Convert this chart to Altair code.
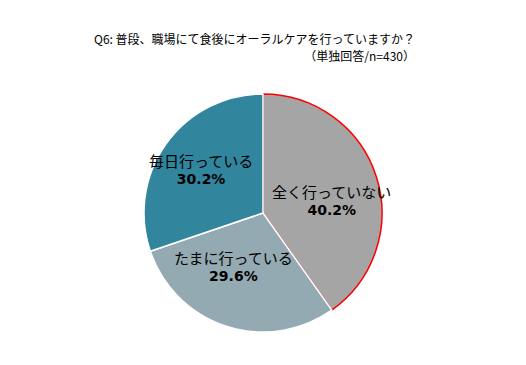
import altair as alt
import pandas as pd

categories = ["全く行っていない", "たまに行っている", "毎日行っている"]
values = [40.2, 29.6, 30.2]
pct_labels = ["40.2%", "29.6%", "30.2%"]
colors = ["#A5A5A5", "#93AAB2", "#31859C"]
title_lines = ["Q6: 普段、職場にて食後にオーラルケアを行っていますか？", "（単独回答/n=430）"]

df = pd.DataFrame({"cat": categories, "value": values, "pct": pct_labels,
                   "order": list(range(len(categories)))})

CX, CY, R = 255, 205, 119
base = alt.Chart(df)

pie = base.mark_arc(strokeWidth=1.5).encode(
    theta=alt.Theta("value:Q", stack=True),
    order=alt.Order("order:Q"),
    color=alt.Color("cat:N", scale=alt.Scale(domain=categories, range=colors), legend=None),
    stroke=alt.condition(alt.datum.cat == categories[0], alt.value("#FF0000"), alt.value("white")),
    x=alt.value(CX), y=alt.value(CY), radius=alt.value(R),
)

offsets = {categories[0]: (2, 10), categories[1]: (-8, -12), categories[2]: (-5, -1)}
layers = [pie]
for cat, (dx, dy) in offsets.items():
    enc = dict(theta=alt.Theta("value:Q", stack=True), order=alt.Order("order:Q"),
               x=alt.value(CX), y=alt.value(CY), radius=alt.value(70))
    name = base.mark_text(font="Noto Sans CJK JP", fontSize=15, color="#000000",
                          dx=dx, dy=dy - 9).encode(
        text=alt.condition(alt.datum.cat == cat, "cat:N", alt.value("")), **enc)
    pct = base.mark_text(font="DejaVu Sans", fontWeight="bold", fontSize=14, color="#000000",
                         dx=dx, dy=dy + 9).encode(
        text=alt.condition(alt.datum.cat == cat, "pct:N", alt.value("")), **enc)
    layers += [name, pct]

tdf = pd.DataFrame({"t": title_lines, "i": [0, 1]})
title = alt.Chart(tdf).mark_text(font="Noto Sans CJK JP", fontSize=12, align="right",
                                 baseline="middle", color="#000000").encode(
    text="t:N",
    x=alt.value(407),
    y=alt.Y("i:Q", scale=alt.Scale(domain=[0, 1], range=[32, 49]), axis=None),
)
layers.append(title)

chart = alt.layer(*layers).properties(
    width=510, height=349, padding=0, autosize="none"
).configure_view(stroke=None)

chart.save("out.html", embed_options={"renderer": "svg", "actions": False})
